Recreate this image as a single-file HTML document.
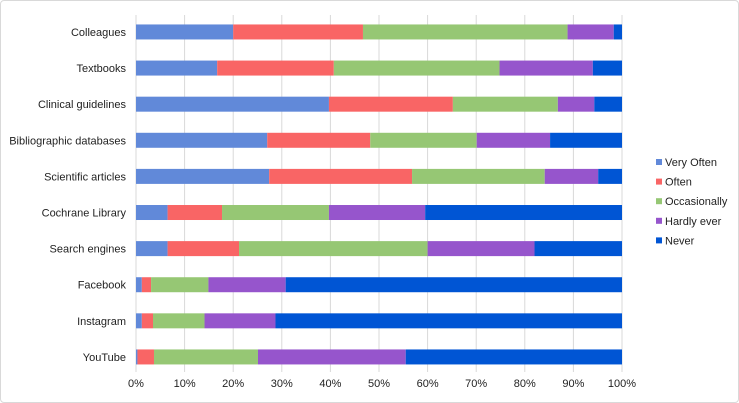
<!DOCTYPE html>
<html><head><meta charset="utf-8"><style>
body{margin:0;background:#fff;font-family:"Liberation Sans",sans-serif;}
#wrap{position:relative;width:739px;height:403px;overflow:hidden;}
#frame{position:absolute;left:0;top:0;width:737px;height:401px;border:1px solid #d9d9d9;border-radius:4px;}
svg{position:absolute;left:0;top:0;}
</style></head><body>
<div id="wrap">
<div id="frame"></div>
<svg id="svg" width="739" height="403"></svg>
</div>
<script>
const categories=["Colleagues","Textbooks","Clinical guidelines","Bibliographic databases","Scientific articles","Cochrane Library","Search engines","Facebook","Instagram","YouTube"];
const seriesNames=["Very Often","Often","Occasionally","Hardly ever","Never"];
const veryOften=[20.0,16.7,39.7,27.0,27.4,6.5,6.5,1.2,1.2,0.3];
const often=[26.7,24.0,25.5,21.2,29.4,11.2,14.7,1.9,2.3,3.4];
const occasionally=[42.1,34.1,21.6,21.9,27.3,22.0,38.8,11.8,10.6,21.4];
const hardlyEver=[9.5,19.2,7.5,15.1,11.0,19.8,22.0,15.9,14.6,30.4];
const never=[1.7,6.0,5.7,14.8,4.9,40.5,18.0,69.2,71.3,44.5];
const tickLabels=["0%","10%","20%","30%","40%","50%","60%","70%","80%","90%","100%"];
const colors=["#6189d9","#f96565","#96c774","#9655cc","#0055d4"];
const series=[veryOften,often,occasionally,hardlyEver,never];
const NS="http://www.w3.org/2000/svg";
const svg=document.getElementById("svg");
const x0=136,x1=622,yTop=15,yBot=372;
const bTop=13.9,bBot=375;
const xs=v=>x0+(v/100)*(x1-x0);
const band=(bBot-bTop)/categories.length;
const yc=i=>bTop+band*(i+0.5);
function mk(t,a){const e=document.createElementNS(NS,t);for(const k in a)e.setAttribute(k,a[k]);svg.appendChild(e);return e;}
tickLabels.forEach((lab,i)=>{
 const x=xs(i*10);
 const g=mk("line",{x1:x,x2:x,y1:yTop,y2:yBot,stroke:"#d9d9d9","stroke-width":1});
 
 
 const t=mk("text",{x:x,y:387,"text-anchor":"middle","font-size":11,fill:"#222"});
 t.textContent=lab;
 
 
});
categories.forEach((c,i)=>{
 const t=mk("text",{x:126,y:yc(i)+4,"text-anchor":"end","font-size":11,fill:"#222"});
 t.textContent=c;
 
 
 let acc=0;
 series.forEach((s,k)=>{
  const v=s[i];
  const r=mk("rect",{x:xs(acc),y:yc(i)-7.5,width:xs(acc+v)-xs(acc),height:15,fill:colors[k]});
  
  
  acc+=v;
 });
});
seriesNames.forEach((n,k)=>{
 const y=162+k*19.6;
 const r=mk("rect",{x:656,y:y-3,width:6,height:6,fill:colors[k]});
 
 
 const t=mk("text",{x:665,y:y+4,"font-size":11,fill:"#222"});
 t.textContent=n;
 
 
});
</script>
</body></html>
